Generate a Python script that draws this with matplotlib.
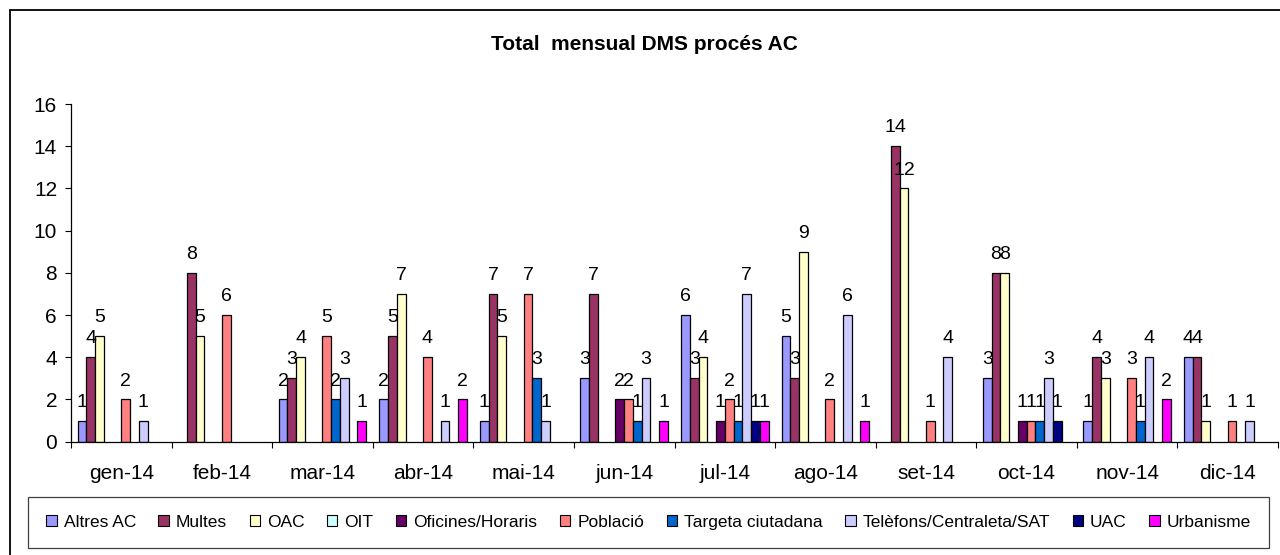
import numpy as np
import matplotlib
matplotlib.use("Agg")
import matplotlib.pyplot as plt
from matplotlib.patches import Rectangle

plt.rcParams['font.family'] = ['Liberation Sans', 'DejaVu Sans']

# months on the x axis
months = ['gen-14', 'feb-14', 'mar-14', 'abr-14', 'mai-14', 'jun-14',
          'jul-14', 'ago-14', 'set-14', 'oct-14', 'nov-14', 'dic-14']

# monthly totals per service
altres_ac = [1, 0, 2, 2, 1, 3, 6, 5, 0, 3, 1, 4]
multes = [4, 8, 3, 5, 7, 7, 3, 3, 14, 8, 4, 4]
oac = [5, 5, 4, 7, 5, 0, 4, 9, 12, 8, 3, 1]
oit = [0, 0, 0, 0, 0, 0, 0, 0, 0, 0, 0, 0]
oficines = [0, 0, 0, 0, 0, 2, 1, 0, 0, 1, 0, 0]
poblacio = [2, 6, 5, 4, 7, 2, 2, 2, 1, 1, 3, 1]
targeta = [0, 0, 2, 0, 3, 1, 1, 0, 0, 1, 1, 0]
telefons = [1, 0, 3, 1, 1, 3, 7, 6, 4, 3, 4, 1]
uac = [0, 0, 0, 0, 0, 0, 1, 0, 0, 1, 0, 0]
urbanisme = [0, 0, 1, 2, 0, 1, 1, 1, 0, 0, 2, 0]

series_names = ['Altres AC', 'Multes', 'OAC', 'OIT', 'Oficines/Horaris',
                'Població', 'Targeta ciutadana', 'Telèfons/Centraleta/SAT',
                'UAC', 'Urbanisme']
series_values = [altres_ac, multes, oac, oit, oficines, poblacio,
                 targeta, telefons, uac, urbanisme]
series_colors = ['#9999FF', '#993366', '#FFFFCC', '#CCFFFF', '#660066',
                 '#FF8080', '#0066CC', '#CCCCFF', '#000080', '#FF00FF']

W, H = 1280, 555
fig = plt.figure(figsize=(W / 100, H / 100), dpi=100)

# chart border (right and bottom edges fall outside the image)
fig.add_artist(Rectangle((9.5 / W, -0.05), 1.2, 1 - 9.5 / H + 0.05,
                         transform=fig.transFigure, fill=False,
                         edgecolor='black', linewidth=1.3))

ax = fig.add_axes([71 / W, 1 - 441.7 / H, (1278 - 71) / W, (441.7 - 104) / H])

n = len(series_names)
bar_w = 1 / (n + 1.5)   # gap width 150%
x = np.arange(len(months))

for i, (name, vals, col) in enumerate(zip(series_names, series_values, series_colors)):
    vals = np.array(vals)
    pos = x + 0.75 * bar_w + i * bar_w + bar_w / 2
    nz = vals > 0
    ax.bar(pos[nz], vals[nz], width=bar_w, color=col, edgecolor='black',
           linewidth=0.9, align='center')
    # value labels above each non-zero bar
    for px, v in zip(pos[nz], vals[nz]):
        ax.annotate(str(v), (px, v), xytext=(0, 10), textcoords='offset points',
                    ha='center', va='baseline', fontsize=14)
    # legend handle
    ax.bar([0], [0], width=0, color=col, edgecolor='black', linewidth=0.8, label=name)

ax.set_xlim(0, len(months))
ax.set_ylim(0, 16)
ax.set_yticks(range(0, 17, 2))

# tick marks at category boundaries, labels at centres
ax.set_xticks(np.arange(0, len(months) + 1))
ax.set_xticklabels([])
ax.set_xticks(x + 0.5, minor=True)
ax.set_xticklabels(months, minor=True)
ax.tick_params(axis='x', which='major', direction='out', length=4, width=0.8)
ax.tick_params(axis='x', which='minor', length=0, pad=16, labelsize=15)
ax.tick_params(axis='y', direction='out', length=4, width=0.8, pad=6, labelsize=15)

for side in ['top', 'right']:
    ax.spines[side].set_visible(False)
for side in ['left', 'bottom']:
    ax.spines[side].set_linewidth(0.9)

fig.text(644 / W, 1 - 44 / H, 'Total  mensual DMS procés AC', ha='center',
         va='center', fontsize=15, fontweight='bold')

leg = fig.legend(loc='center', ncol=n, mode='expand',
                 bbox_to_anchor=(28 / W, 1 - 548 / H, (1269 - 28) / W, 51 / H),
                 borderaxespad=0, fontsize=12.5, handlelength=0.6, handleheight=0.6,
                 handletextpad=0.4, borderpad=1.05, columnspacing=1.0,
                 fancybox=False, framealpha=1)
leg.get_frame().set_edgecolor('#404040')
leg.get_frame().set_linewidth(0.9)

fig.savefig('out.png', dpi=100)
